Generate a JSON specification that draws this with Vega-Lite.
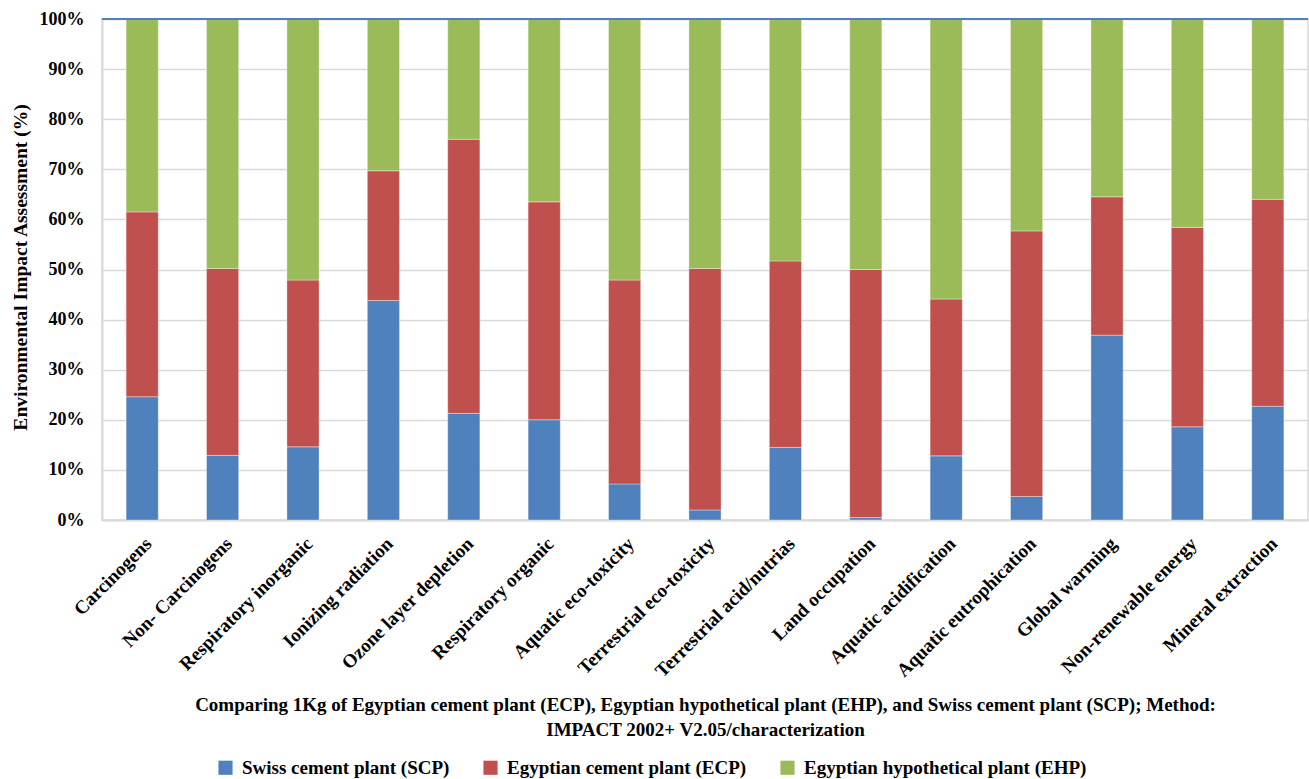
{
  "$schema": "https://vega.github.io/schema/vega-lite/v6.json",
  "autosize": {"type": "none"},
  "width": 1206,
  "height": 501,
  "padding": {"left": 102, "top": 19, "right": 1, "bottom": 259},
  "background": "white",
  "config": {
    "font": "Liberation Serif",
    "view": {"stroke": "#D9D9D9", "strokeWidth": 1.5},
    "axis": {
      "labelFont": "Liberation Serif",
      "labelFontWeight": "bold",
      "labelColor": "black",
      "titleFont": "Liberation Serif",
      "titleFontWeight": "bold",
      "titleColor": "black"
    },
    "legend": {
      "labelFont": "Liberation Serif",
      "labelFontWeight": "bold",
      "labelColor": "black"
    }
  },
  "data": {
    "values": [
      {"category": "Carcinogens", "plant": "Swiss cement plant (SCP)", "value": 24.6},
      {"category": "Carcinogens", "plant": "Egyptian cement plant (ECP)", "value": 36.9},
      {"category": "Carcinogens", "plant": "Egyptian hypothetical plant (EHP)", "value": 38.5},
      {"category": "Non- Carcinogens", "plant": "Swiss cement plant (SCP)", "value": 12.9},
      {"category": "Non- Carcinogens", "plant": "Egyptian cement plant (ECP)", "value": 37.3},
      {"category": "Non- Carcinogens", "plant": "Egyptian hypothetical plant (EHP)", "value": 49.8},
      {"category": "Respiratory inorganic", "plant": "Swiss cement plant (SCP)", "value": 14.6},
      {"category": "Respiratory inorganic", "plant": "Egyptian cement plant (ECP)", "value": 33.3},
      {"category": "Respiratory inorganic", "plant": "Egyptian hypothetical plant (EHP)", "value": 52.1},
      {"category": "Ionizing radiation", "plant": "Swiss cement plant (SCP)", "value": 43.8},
      {"category": "Ionizing radiation", "plant": "Egyptian cement plant (ECP)", "value": 25.9},
      {"category": "Ionizing radiation", "plant": "Egyptian hypothetical plant (EHP)", "value": 30.3},
      {"category": "Ozone layer depletion", "plant": "Swiss cement plant (SCP)", "value": 21.3},
      {"category": "Ozone layer depletion", "plant": "Egyptian cement plant (ECP)", "value": 54.7},
      {"category": "Ozone layer depletion", "plant": "Egyptian hypothetical plant (EHP)", "value": 24.0},
      {"category": "Respiratory organic", "plant": "Swiss cement plant (SCP)", "value": 20.0},
      {"category": "Respiratory organic", "plant": "Egyptian cement plant (ECP)", "value": 43.5},
      {"category": "Respiratory organic", "plant": "Egyptian hypothetical plant (EHP)", "value": 36.5},
      {"category": "Aquatic eco-toxicity", "plant": "Swiss cement plant (SCP)", "value": 7.2},
      {"category": "Aquatic eco-toxicity", "plant": "Egyptian cement plant (ECP)", "value": 40.7},
      {"category": "Aquatic eco-toxicity", "plant": "Egyptian hypothetical plant (EHP)", "value": 52.1},
      {"category": "Terrestrial eco-toxicity", "plant": "Swiss cement plant (SCP)", "value": 2.0},
      {"category": "Terrestrial eco-toxicity", "plant": "Egyptian cement plant (ECP)", "value": 48.2},
      {"category": "Terrestrial eco-toxicity", "plant": "Egyptian hypothetical plant (EHP)", "value": 49.8},
      {"category": "Terrestrial acid/nutrias", "plant": "Swiss cement plant (SCP)", "value": 14.5},
      {"category": "Terrestrial acid/nutrias", "plant": "Egyptian cement plant (ECP)", "value": 37.2},
      {"category": "Terrestrial acid/nutrias", "plant": "Egyptian hypothetical plant (EHP)", "value": 48.3},
      {"category": "Land occupation", "plant": "Swiss cement plant (SCP)", "value": 0.5},
      {"category": "Land occupation", "plant": "Egyptian cement plant (ECP)", "value": 49.5},
      {"category": "Land occupation", "plant": "Egyptian hypothetical plant (EHP)", "value": 50.0},
      {"category": "Aquatic acidification", "plant": "Swiss cement plant (SCP)", "value": 12.8},
      {"category": "Aquatic acidification", "plant": "Egyptian cement plant (ECP)", "value": 31.3},
      {"category": "Aquatic acidification", "plant": "Egyptian hypothetical plant (EHP)", "value": 55.9},
      {"category": "Aquatic eutrophication", "plant": "Swiss cement plant (SCP)", "value": 4.7},
      {"category": "Aquatic eutrophication", "plant": "Egyptian cement plant (ECP)", "value": 53.0},
      {"category": "Aquatic eutrophication", "plant": "Egyptian hypothetical plant (EHP)", "value": 42.3},
      {"category": "Global warming", "plant": "Swiss cement plant (SCP)", "value": 36.9},
      {"category": "Global warming", "plant": "Egyptian cement plant (ECP)", "value": 27.6},
      {"category": "Global warming", "plant": "Egyptian hypothetical plant (EHP)", "value": 35.5},
      {"category": "Non-renewable energy", "plant": "Swiss cement plant (SCP)", "value": 18.6},
      {"category": "Non-renewable energy", "plant": "Egyptian cement plant (ECP)", "value": 39.8},
      {"category": "Non-renewable energy", "plant": "Egyptian hypothetical plant (EHP)", "value": 41.6},
      {"category": "Mineral extraction", "plant": "Swiss cement plant (SCP)", "value": 22.7},
      {"category": "Mineral extraction", "plant": "Egyptian cement plant (ECP)", "value": 41.3},
      {"category": "Mineral extraction", "plant": "Egyptian hypothetical plant (EHP)", "value": 36.0}
    ]
  },
  "layer": [
    {
      "transform": [
        {"calculate": "indexof(['Swiss cement plant (SCP)', 'Egyptian cement plant (ECP)', 'Egyptian hypothetical plant (EHP)'], datum.plant)", "as": "stackRank"}
      ],
      "mark": {"type": "bar", "stroke": "white", "strokeOpacity": 0.35, "strokeWidth": 1},
      "encoding": {
        "x": {
          "field": "category",
          "type": "nominal",
          "sort": null,
          "scale": {"paddingInner": 0.6, "paddingOuter": 0.3},
          "axis": {
            "labelAngle": -45,
            "labelFontSize": 19,
            "labelPadding": 14,
            "labelDx": -6,
            "labelLimit": 0,
            "ticks": false,
            "domainColor": "#D9D9D9",
            "domainWidth": 2,
            "title": [
              "Comparing 1Kg of Egyptian cement plant (ECP), Egyptian hypothetical plant (EHP), and Swiss cement plant (SCP); Method:",
              "IMPACT 2002+ V2.05/characterization"
            ],
            "titleFontSize": 19,
            "titleLineHeight": 25,
            "titleBaseline": "top",
            "titleY": 175
          }
        },
        "y": {
          "field": "value",
          "type": "quantitative",
          "stack": "normalize",
          "scale": {"domain": [0, 1], "nice": false},
          "axis": {
            "format": ".0%",
            "values": [0, 0.1, 0.2, 0.3, 0.4, 0.5, 0.6, 0.7, 0.8, 0.9, 1],
            "labelFontSize": 18,
            "labelPadding": 18,
            "ticks": false,
            "domainColor": "#D9D9D9",
            "domainWidth": 2,
            "gridColor": "#D9D9D9",
            "gridWidth": 1.5,
            "title": "Environmental Impact Assessment (%)",
            "titleFontSize": 19.5,
            "titlePadding": 9,
            "titleY": 248
          }
        },
        "color": {
          "field": "plant",
          "type": "nominal",
          "scale": {
            "domain": ["Swiss cement plant (SCP)", "Egyptian cement plant (ECP)", "Egyptian hypothetical plant (EHP)"],
            "range": ["#4F81BD", "#C0504D", "#9BBB59"]
          },
          "legend": {
            "title": null,
            "orient": "none",
            "direction": "horizontal",
            "legendX": 114,
            "legendY": 739,
            "symbolType": "square",
            "symbolSize": 200,
            "symbolStrokeWidth": 0,
            "labelFontSize": 19,
            "labelLimit": 0,
            "labelOffset": 7,
            "columnPadding": 31
          }
        },
        "order": {"field": "stackRank", "type": "quantitative", "sort": "ascending"}
      }
    },
    {
      "mark": {"type": "rule", "color": "#4F81BD", "strokeWidth": 2},
      "encoding": {"y": {"datum": 1}}
    }
  ]
}
